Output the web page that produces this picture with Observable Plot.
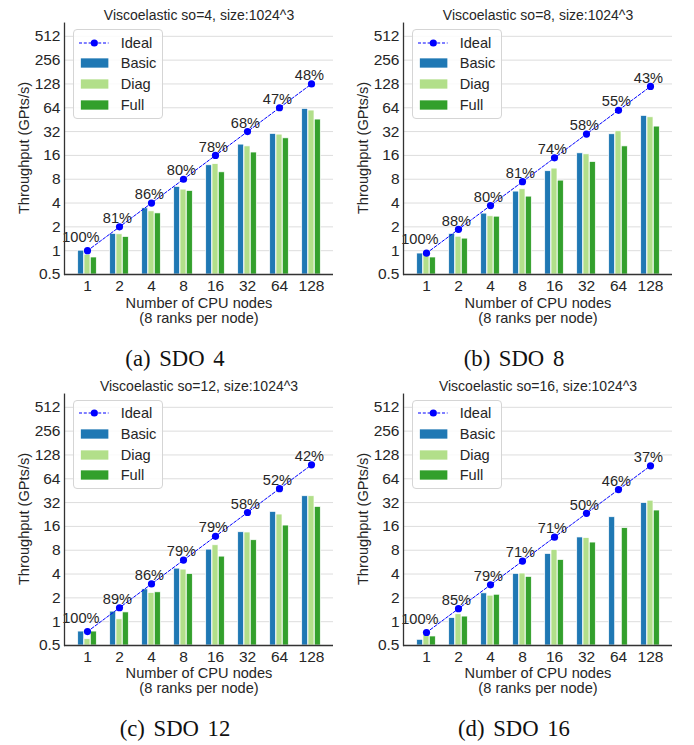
<!DOCTYPE html>
<html>
<head>
<meta charset="utf-8">
<script src="https://cdn.jsdelivr.net/npm/d3@7"></script>
<script src="https://cdn.jsdelivr.net/npm/@observablehq/plot@0.6"></script>
<style>
  body { margin: 0; background: #fff; }
  #root { position: relative; width: 694px; height: 745px; font-family: "Liberation Sans", Arial, sans-serif; color: #262626; overflow: hidden; }
  .panel { position: absolute; width: 347px; height: 345px; }
  .panel svg { position: absolute; left: 0; top: 0; overflow: visible; }
  .title { position: absolute; left: 199px; top: 7px; transform: translateX(-50%); font-size: 14px; line-height: 16px; white-space: nowrap; }
  .xlabel { position: absolute; left: 199px; top: 295.5px; transform: translateX(-50%); font-size: 14.6px; line-height: 15px; text-align: center; white-space: nowrap; }
  .ylabel { position: absolute; left: 24px; top: 148px; transform: translate(-50%, -50%) rotate(-90deg); font-size: 14.6px; line-height: 16px; white-space: nowrap; }
  .legend { position: absolute; left: 72.7px; top: 29.3px; width: 88px; height: 87.5px; border: 1px solid #d5d5d5; border-radius: 4px; background: rgba(255,255,255,0.85); }
  .legend .item { position: absolute; left: 0; height: 20px; width: 88px; }
  .legend svg { position: absolute; left: 5px; top: 5px; }
  .legend span { position: absolute; left: 47px; top: 1px; font-size: 14.6px; line-height: 18px; }
  .caption { position: absolute; font-family: "Liberation Serif", "Times New Roman", serif; font-size: 22.7px; line-height: 22.7px; white-space: nowrap; transform: translateX(-50%); word-spacing: 3px; color: #111; }
</style>
</head>
<body>
<div id="root"></div>
<script>
// ---- data ----
const nodes = ["1", "2", "4", "8", "16", "32", "64", "128"];
const series = ["Basic", "Diag", "Full"];
const seriesColors = ["#1f78b4", "#b2df8a", "#33a02c"];
const idealLabel = "Ideal";
const idealColor = "#0000ff";
const yTicks = [0.5, 1, 2, 4, 8, 16, 32, 64, 128, 256, 512];
const yTop = 750;

const titles = [
  "Viscoelastic so=4, size:1024^3",
  "Viscoelastic so=8, size:1024^3",
  "Viscoelastic so=12, size:1024^3",
  "Viscoelastic so=16, size:1024^3"
];
const captions = ["(a) SDO 4", "(b) SDO 8", "(c) SDO 12", "(d) SDO 16"];
const xLabelLines = ["Number of CPU nodes", "(8 ranks per node)"];
const yLabel = "Throughput (GPts/s)";

const so4Basic = [1.0, 1.63, 3.43, 6.39, 12.0, 21.9, 29.9, 61.9];
const so4Diag  = [0.89, 1.61, 3.14, 5.91, 12.4, 20.8, 29.3, 59.0];
const so4Full  = [0.82, 1.49, 2.96, 5.69, 9.78, 17.4, 26.3, 45.4];
const so4Ideal = [1, 2, 4, 8, 16, 32, 64, 128];
const so4Eff   = ["100%", "81%", "86%", "80%", "78%", "68%", "47%", "48%"];

const so8Basic = [0.92, 1.63, 2.94, 5.58, 10.1, 17.0, 29.6, 50.5];
const so8Diag  = [0.87, 1.50, 2.72, 5.97, 10.9, 16.5, 32.3, 48.5];
const so8Full  = [0.82, 1.42, 2.69, 4.82, 7.68, 13.2, 20.8, 37.0];
const so8Ideal = [0.93, 1.86, 3.72, 7.44, 14.9, 29.8, 59.5, 119];
const so8Eff   = ["100%", "88%", "80%", "81%", "74%", "58%", "55%", "43%"];

const so12Basic = [0.75, 1.34, 2.56, 4.68, 8.14, 13.5, 24.4, 38.5];
const so12Diag  = [0.60, 1.07, 2.30, 4.55, 9.24, 13.4, 22.6, 38.5];
const so12Full  = [0.75, 1.31, 2.35, 4.0, 6.64, 10.7, 16.4, 28.2];
const so12Ideal = [0.75, 1.5, 3, 6, 12, 24, 48, 96];
const so12Eff   = ["100%", "89%", "86%", "79%", "79%", "58%", "52%", "42%"];

const so16Basic = [0.59, 1.11, 2.28, 4.02, 7.17, 11.6, 20.9, 31.5];
const so16Diag  = [0.70, 1.24, 2.13, 4.06, 8.07, 11.4, null, 33.8];
const so16Full  = [0.65, 1.16, 2.19, 3.68, 6.02, 10.0, 15.2, 25.4];
const so16Ideal = [0.73, 1.46, 2.92, 5.84, 11.7, 23.4, 46.7, 93.4];
const so16Eff   = ["100%", "85%", "79%", "71%", "71%", "50%", "46%", "37%"];

const panelsData = [
  {bars: [so4Basic, so4Diag, so4Full], ideal: so4Ideal, eff: so4Eff},
  {bars: [so8Basic, so8Diag, so8Full], ideal: so8Ideal, eff: so8Eff},
  {bars: [so12Basic, so12Diag, so12Full], ideal: so12Ideal, eff: so12Eff},
  {bars: [so16Basic, so16Diag, so16Full], ideal: so16Ideal, eff: so16Eff}
];

// ---- layout ----
const panelLeft = [0, 339, 0, 339];
const panelTop = [0, 0, 370.5, 370.5];
const captionX = [175, 514, 175, 514];
const captionTop = [347.7, 347.7, 717.7, 717.7];

const root = document.getElementById("root");
const textColor = "#262626";

panelsData.forEach((p, pi) => {
  const panel = document.createElement("div");
  panel.className = "panel";
  panel.style.left = panelLeft[pi] + "px";
  panel.style.top = panelTop[pi] + "px";

  const barRows = [];
  series.forEach((s, k) => {
    nodes.forEach((n, i) => {
      const v = p.bars[k][i];
      if (v != null) barRows.push({node: n, series: s, value: v});
    });
  });
  const idealRows = nodes.map((n, i) => ({node: n, ideal: p.ideal[i], eff: p.eff[i]}));

  const barWidthStep = 6.3;
  const chart = Plot.plot({
    width: 347,
    height: 335,
    marginLeft: 64,
    marginRight: 14,
    marginTop: 22.7,
    marginBottom: 61,
    style: {fontFamily: '"Liberation Sans", Arial, sans-serif', color: textColor, background: "transparent"},
    x: {type: "band", domain: nodes, paddingInner: 0, paddingOuter: 0.18},
    y: {type: "log", base: 2, domain: [yTicks[0], yTop]},
    marks: [
      Plot.gridY(yTicks, {stroke: "#dddddd", strokeOpacity: 1, strokeWidth: 1}),
      ...series.map((s, k) => Plot.barY(barRows.filter(d => d.series === s), {
        x: "node", y1: yTicks[0], y2: "value",
        fill: seriesColors[k], stroke: "white", strokeWidth: 0.7,
        insetLeft: 13, insetRight: 13, dx: (k - 1) * barWidthStep
      })),
      Plot.line(idealRows, {x: "node", y: "ideal", stroke: idealColor, strokeWidth: 1, strokeDasharray: "3,1.8"}),
      Plot.dot(idealRows, {x: "node", y: "ideal", r: 3.6, fill: idealColor, stroke: "none"}),
      Plot.text(idealRows.slice(0, 1), {x: "node", y: "ideal", text: "eff", textAnchor: "end", lineAnchor: "middle", dx: 12, dy: -13.5, fontSize: 14.6, fill: textColor}),
      Plot.text(idealRows.slice(1), {x: "node", y: "ideal", text: "eff", textAnchor: "end", lineAnchor: "middle", dx: 12.5, dy: -8.5, fontSize: 14.6, fill: textColor}),
      Plot.ruleY([yTicks[0]], {stroke: "#333333", strokeWidth: 1.3}),
      Plot.frame({anchor: "left", stroke: "#333333", strokeWidth: 1.3}),
      Plot.axisY(yTicks, {tickSize: 0, tickPadding: 4, fontSize: 15.5, label: null, tickFormat: d => String(d)}),
      Plot.axisX({tickSize: 0, tickPadding: 5, fontSize: 15.5, label: null})
    ]
  });
  panel.appendChild(chart);

  const title = document.createElement("div");
  title.className = "title";
  title.textContent = titles[pi];
  panel.appendChild(title);

  const xl = document.createElement("div");
  xl.className = "xlabel";
  xl.innerHTML = xLabelLines.join("<br>");
  panel.appendChild(xl);

  const yl = document.createElement("div");
  yl.className = "ylabel";
  yl.textContent = yLabel;
  panel.appendChild(yl);

  // legend
  const lg = document.createElement("div");
  lg.className = "legend";
  const items = [{label: idealLabel, type: "line", color: idealColor}]
    .concat(series.map((s, k) => ({label: s, type: "patch", color: seriesColors[k]})));
  items.forEach((it, j) => {
    const row = document.createElement("div");
    row.className = "item";
    row.style.top = (2.5 + j * 20.7) + "px";
    const ns = "http://www.w3.org/2000/svg";
    const svg = document.createElementNS(ns, "svg");
    svg.setAttribute("width", 30);
    svg.setAttribute("height", 10);
    if (it.type === "line") {
      const ln = document.createElementNS(ns, "line");
      ln.setAttribute("x1", 0); ln.setAttribute("x2", 29.6);
      ln.setAttribute("y1", 5); ln.setAttribute("y2", 5);
      ln.setAttribute("stroke", it.color); ln.setAttribute("stroke-width", 1);
      ln.setAttribute("stroke-dasharray", "3,1.8");
      svg.appendChild(ln);
      const c = document.createElementNS(ns, "circle");
      c.setAttribute("cx", 15.3); c.setAttribute("cy", 5); c.setAttribute("r", 3.6);
      c.setAttribute("fill", it.color);
      svg.appendChild(c);
    } else {
      const r = document.createElementNS(ns, "rect");
      r.setAttribute("x", 1.5); r.setAttribute("y", 0); r.setAttribute("width", 28.3); r.setAttribute("height", 10);
      r.setAttribute("fill", it.color); r.setAttribute("stroke", "white"); r.setAttribute("stroke-width", 0.7);
      svg.appendChild(r);
    }
    row.appendChild(svg);
    const sp = document.createElement("span");
    sp.textContent = it.label;
    row.appendChild(sp);
    lg.appendChild(row);
  });
  panel.appendChild(lg);

  root.appendChild(panel);

  const cap = document.createElement("div");
  cap.className = "caption";
  cap.style.left = captionX[pi] + "px";
  cap.style.top = captionTop[pi] + "px";
  cap.textContent = captions[pi];
  root.appendChild(cap);
});
</script>
</body>
</html>
